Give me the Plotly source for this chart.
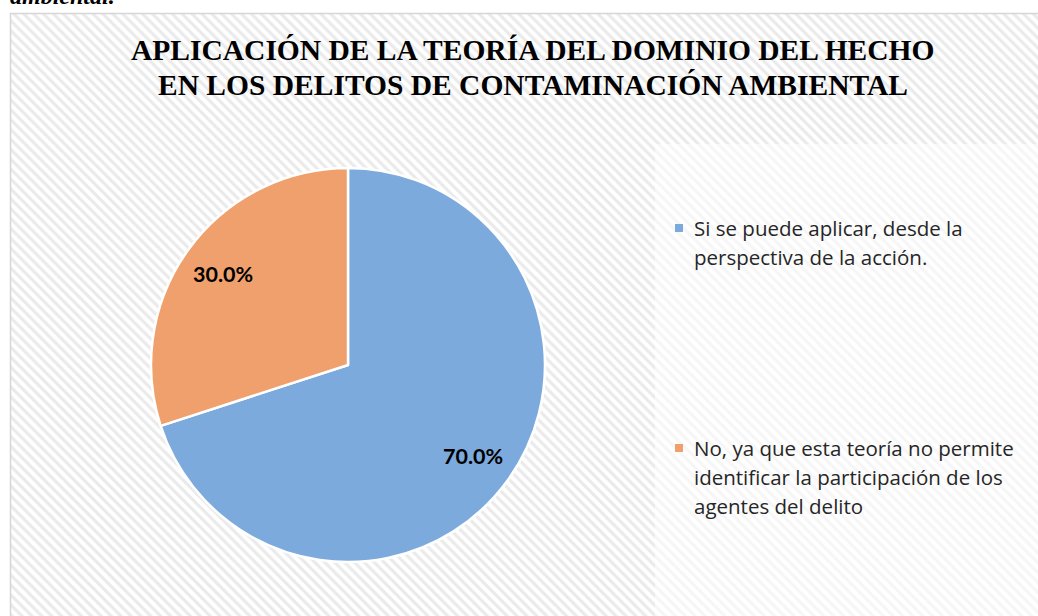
import math
import plotly.graph_objects as go

# ---------------- data ----------------
categories = [
    "Si se puede aplicar, desde la perspectiva de la acción.",
    "No, ya que esta teoría no permite identificar la participación de los agentes del delito",
]
values = [70.0, 30.0]
colors = ["#7DAADC", "#F0A06C"]
legend_lines = [
    ["Si se puede aplicar, desde la", "perspectiva de la acción."],
    ["No, ya que esta teoría no permite", "identificar la participación de los", "agentes del delito"],
]
title_lines = [
    "APLICACIÓN DE LA TEORÍA DEL DOMINIO DEL HECHO",
    "EN LOS DELITOS DE CONTAMINACIÓN AMBIENTAL",
]
caption_text = "ambiental."

W, H = 1038, 616


def px(x):
    return x / W


def py(y):
    return 1 - y / H


# pie geometry (pixels)
cx, cy, r = 348, 365, 197

fig = go.Figure()

# hatched chart background
fig.add_trace(go.Scatter(
    x=[11, W + 5, W + 5, 11, 11], y=[14, 14, H + 5, H + 5, 14],
    mode="lines", fill="toself", line=dict(width=0),
    fillcolor="white",
    fillpattern=dict(shape="\\", size=7, solidity=0.45, fgcolor="#d6d6d6", bgcolor="white"),
    hoverinfo="skip", showlegend=False,
))

fig.add_trace(go.Pie(
    labels=categories, values=values, sort=False, direction="clockwise", rotation=0,
    marker=dict(colors=colors, line=dict(color="white", width=2.5)),
    textinfo="none", hoverinfo="label+percent", showlegend=False,
    domain=dict(x=[px(cx - r), px(cx + r)], y=[py(cy + r), py(cy - r)]),
))

annotations = []
# percentage labels along each slice bisector
total = sum(values)
start = 0.0
for v in values:
    mid = (start + v / 2) / total * 2 * math.pi
    start += v
    lx = cx + 0.785 * r * math.sin(mid)
    ly = cy - 0.785 * r * math.cos(mid)
    annotations.append(dict(
        x=px(lx), y=py(ly), xref="paper", yref="paper", showarrow=False,
        text=f"<b>{v / total * 100:.1f}%</b>",
        font=dict(family="Lato", size=21.5, color="#000000"),
        xanchor="center", yanchor="middle",
    ))

# title
for k, (line, yy) in enumerate(zip(title_lines, [50, 85])):
    annotations.append(dict(
        x=px(533), y=py(yy), xref="paper", yref="paper", showarrow=False,
        text=f"<b>{line}</b>", align="center",
        font=dict(family="Liberation Serif", size=29.5, color="#000000"),
        xanchor="center", yanchor="middle",
    ))

# cut-off caption at the very top
annotations.append(dict(
    x=px(8), y=py(-4), xref="paper", yref="paper", showarrow=False,
    text=f"<b><i>{caption_text}</i></b>",
    font=dict(family="Liberation Serif", size=24, color="#000000"),
    xanchor="left", yanchor="middle",
))

# legend text (custom placement)
legend_first_y = [228, 448]
line_gap = 28.8
shapes = []
for i, lines in enumerate(legend_lines):
    for j, line in enumerate(lines):
        annotations.append(dict(
            x=px(692), y=py(legend_first_y[i] + j * line_gap), xref="paper", yref="paper",
            showarrow=False, text=line,
            font=dict(family="Open Sans", size=20.5, color="#262626"),
            xanchor="left", yanchor="middle",
        ))
    shapes.append(dict(
        type="rect", xref="paper", yref="paper",
        x0=px(675), x1=px(683), y0=py(legend_first_y[i] - 4), y1=py(legend_first_y[i] + 4),
        fillcolor=colors[i], line=dict(width=0), layer="above",
    ))

# legend box (lighter area) and chart border
shapes.insert(0, dict(
    type="rect", xref="paper", yref="paper",
    x0=px(655), x1=px(W + 5), y0=py(144), y1=py(H + 5),
    fillcolor="rgba(255,255,255,0.55)", line=dict(width=0), layer="above",
))
shapes.append(dict(
    type="rect", xref="paper", yref="paper",
    x0=px(10.5), x1=px(W + 5), y0=py(13.5), y1=py(H + 5),
    fillcolor="rgba(0,0,0,0)", line=dict(color="#d6d6d6", width=1.5), layer="above",
))

fig.update_layout(
    width=W, height=H,
    margin=dict(l=0, r=0, t=0, b=0),
    paper_bgcolor="white", plot_bgcolor="rgba(0,0,0,0)",
    xaxis=dict(range=[0, W], visible=False, fixedrange=True, domain=[0, 1]),
    yaxis=dict(range=[H, 0], visible=False, fixedrange=True, domain=[0, 1]),
    annotations=annotations, shapes=shapes, showlegend=False,
)

fig.write_html(
    "out.html",
    config={"displayModeBar": False},
    post_script="document.body.style.margin='0';document.body.style.overflow='hidden';",
)
